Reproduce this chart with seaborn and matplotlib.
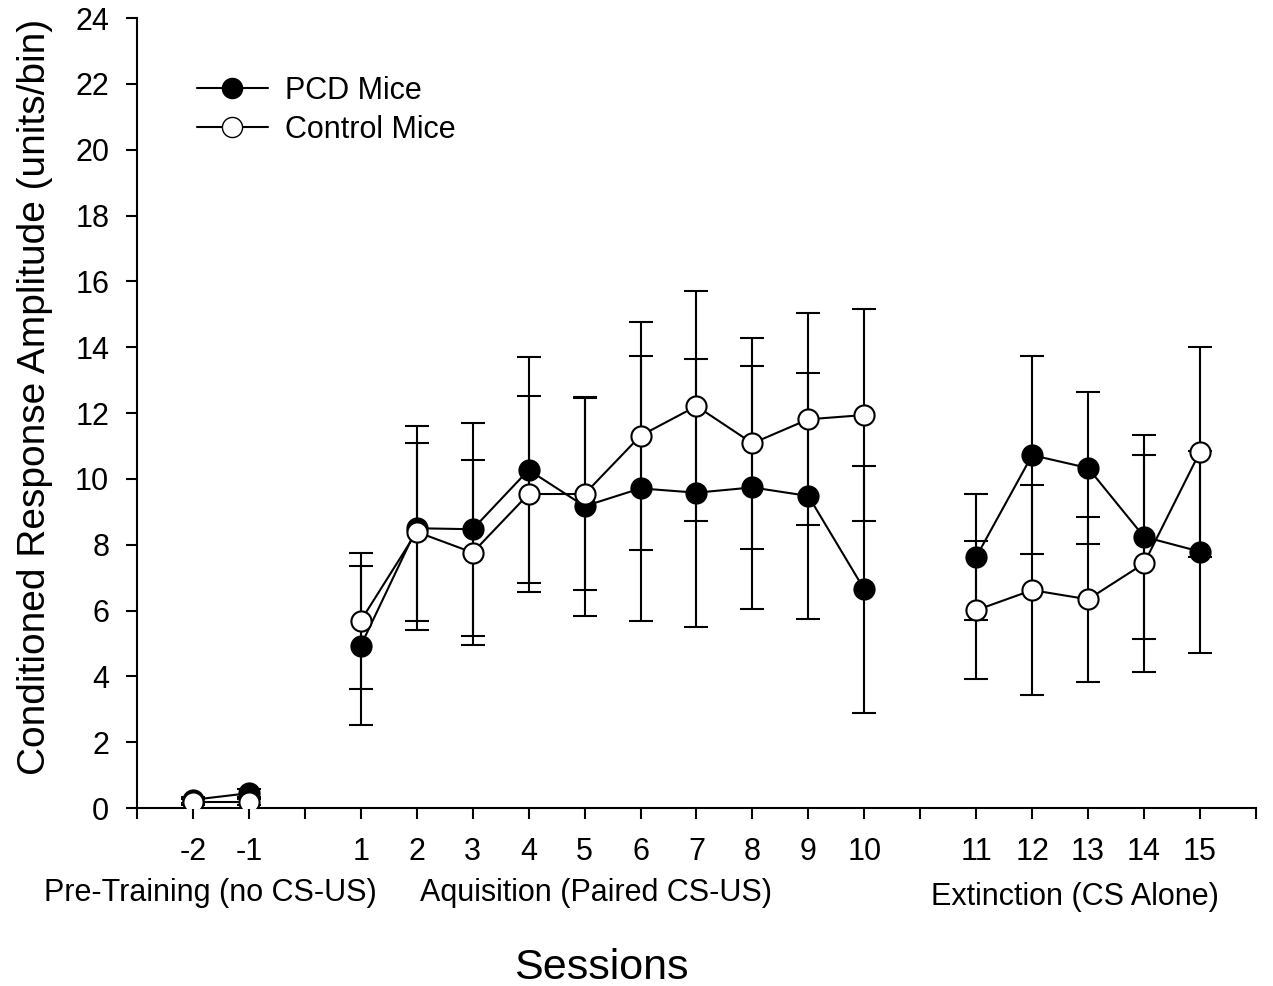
import numpy as np
import pandas as pd
import matplotlib
matplotlib.use("Agg")
import matplotlib.pyplot as plt
from matplotlib.lines import Line2D
import seaborn as sns

# Session numbers and phase of each session
sessions = [-2, -1, 1, 2, 3, 4, 5, 6, 7, 8, 9, 10, 11, 12, 13, 14, 15]
phases = ["pre"] * 2 + ["acq"] * 10 + ["ext"] * 5

# Means and SEM
pcd_mean = [0.25, 0.45, 4.93, 8.50, 8.47, 10.27, 9.17, 9.71, 9.58, 9.74, 9.48, 6.64,
            7.63, 10.72, 10.33, 8.24, 7.79]
pcd_err = [0.10, 0.12, 2.42, 3.10, 3.23, 3.43, 3.33, 4.02, 4.07, 3.70, 3.73, 3.74,
           1.91, 3.01, 2.30, 3.10, 3.07]
ctl_mean = [0.18, 0.18, 5.69, 8.39, 7.76, 9.54, 9.54, 11.31, 12.21, 11.08, 11.81, 11.94,
            6.01, 6.62, 6.34, 7.43, 10.82]
ctl_err = [0.10, 0.10, 2.07, 2.70, 2.80, 2.97, 2.93, 3.47, 3.50, 3.20, 3.22, 3.23,
           2.10, 3.20, 2.50, 3.30, 3.20]

phase_labels = ["Pre-Training (no CS-US)", "Aquisition (Paired CS-US)", "Extinction (CS Alone)"]

sns.set_style("ticks")
plt.rcParams["font.family"] = ["Liberation Sans", "DejaVu Sans"]
plt.rcParams["text.color"] = "black"
plt.rcParams["axes.labelcolor"] = "black"
plt.rcParams["xtick.color"] = "black"
plt.rcParams["ytick.color"] = "black"


def plot_pos(s):
    # leave an empty slot between phases
    return s + 1 if s > 10 else s


df = pd.DataFrame({"session": sessions, "phase": phases})
df["pos"] = [plot_pos(s) for s in sessions]
pcd = df.assign(mean=pcd_mean, err=pcd_err)
ctl = df.assign(mean=ctl_mean, err=ctl_err)

fig = plt.figure(figsize=(12.73, 9.86), dpi=100)
ax = fig.add_axes([0.1076, 0.1805, 0.879, 0.8012])

ms = 14.5
lw = 1.5
for d in (pcd, ctl):
    ax.errorbar(d["pos"], d["mean"], yerr=d["err"], fmt="none", ecolor="black",
                elinewidth=lw, capsize=8.5, capthick=lw, zorder=1)

sns.lineplot(data=pcd, x="pos", y="mean", units="phase", estimator=None, ax=ax,
             color="black", lw=lw, marker="o", markersize=ms, markerfacecolor="black",
             markeredgecolor="black", markeredgewidth=lw, zorder=2)
sns.lineplot(data=ctl, x="pos", y="mean", units="phase", estimator=None, ax=ax,
             color="black", lw=lw, marker="o", markersize=ms, markerfacecolor="white",
             markeredgecolor="black", markeredgewidth=lw, zorder=3)

ax.set_xlim(-3, 17)
ax.set_ylim(0, 24)
ax.set_yticks(np.arange(0, 25, 2))
ticks = np.arange(-3, 18)
ax.set_xticks(ticks)
lab = {plot_pos(s): str(s) for s in sessions}
ax.set_xticklabels([lab.get(t, "") for t in ticks])
ax.tick_params(axis="both", labelsize=22, length=8, width=1.5, direction="out")
ax.tick_params(axis="y", pad=12)
ax.tick_params(axis="x", pad=13)
for sp in ("left", "bottom"):
    ax.spines[sp].set_linewidth(1.5)
    ax.spines[sp].set_color("black")
sns.despine(ax=ax)

ax.set_xlabel("")
ax.set_ylabel("Conditioned Response Amplitude (units/bin)", fontsize=28, labelpad=16)
ax.yaxis.label.set_y(0.52)

tr = ax.get_xaxis_transform()
ax.text(-1.68, -0.108, phase_labels[0], transform=tr, ha="center", va="center", fontsize=22)
ax.text(5.2, -0.108, phase_labels[1], transform=tr, ha="center", va="center", fontsize=22)
ax.text(13.77, -0.113, phase_labels[2], transform=tr, ha="center", va="center", fontsize=22)
ax.text(5.29, -0.203, "Sessions", transform=tr, ha="center", va="center", fontsize=31)

handles = [
    Line2D([], [], color="black", lw=lw, marker="o", markersize=ms,
           markerfacecolor="black", markeredgecolor="black"),
    Line2D([], [], color="black", lw=lw, marker="o", markersize=ms,
           markerfacecolor="white", markeredgecolor="black"),
]
ax.legend(handles, ["PCD Mice", "Control Mice"], loc="upper left", frameon=False,
          fontsize=22, bbox_to_anchor=(0.0536, 0.927), borderaxespad=0, borderpad=0,
          handlelength=2.32, labelspacing=0.3, handletextpad=0.55)

fig.savefig("out.png", dpi=100)
